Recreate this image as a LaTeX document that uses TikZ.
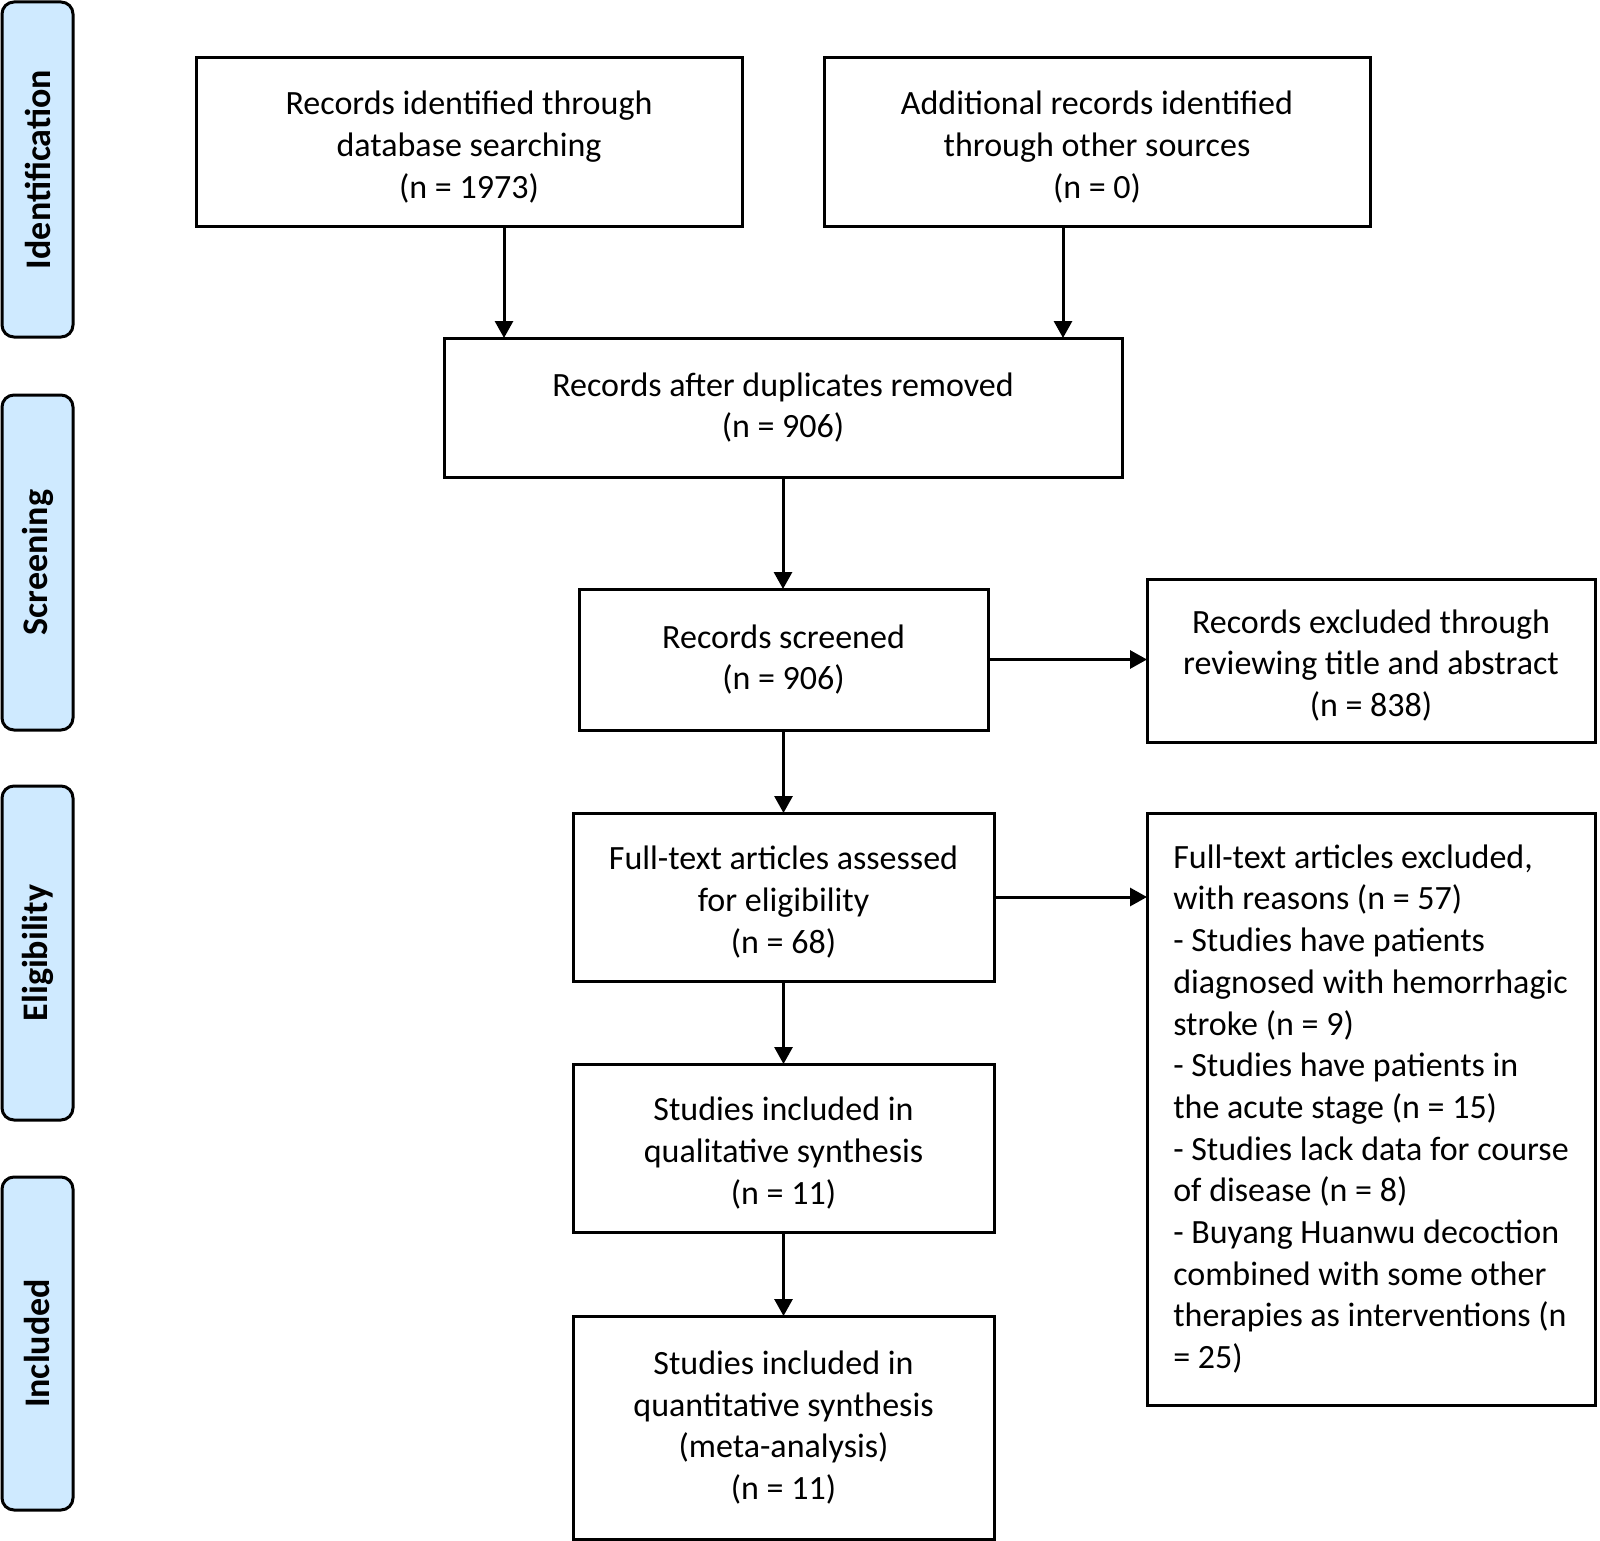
\documentclass[tikz,border=0pt]{standalone}
\usepackage{fontspec}
\setmainfont{Carlito}
\usetikzlibrary{arrows.meta,calc}
\definecolor{sidefill}{RGB}{207,234,255}
\newcommand\topgap{\rule{0pt}{16.8pt}}
\tikzset{
  box/.style={draw, line width=1.5pt, inner sep=0pt, outer sep=0pt, align=center,
    font=\fontsize{17}{20.85}\selectfont},
  side/.style={draw, line width=1.5pt, fill=sidefill, rounded corners=6pt, inner sep=0pt,
    outer sep=0pt, rotate=90, font=\fontsize{18}{22}\selectfont\bfseries},
  arr/.style={draw, line width=1.5pt, -{Triangle[length=8.5pt,width=9pt]}}
}
\begin{document}
\begin{tikzpicture}[x=0.5pt,y=-0.5pt]
\useasboundingbox (0,0) rectangle (1600,1541);
% side bars (rotated: minimum width -> vertical extent)
\node[side, minimum width=167.5pt, minimum height=35.5pt] (sid) at (37.5,169.5) {Identification};
\node[side, minimum width=167.5pt, minimum height=35.5pt] (ssc) at (37.5,562.5) {Screening};
\node[side, minimum width=167pt, minimum height=35.5pt] (sel) at (37.5,953) {Eligibility};
\node[side, minimum width=166.5pt, minimum height=35.5pt] (sin) at (37.5,1343.5) {Included};
% boxes
\node[box, minimum width=273pt, minimum height=84pt] (b1) at (469,142)
  {\topgap Records identified through\\database searching\\(n = 1973)};
\node[box, minimum width=273pt, minimum height=84pt] (b2) at (1097,142)
  {\topgap Additional records identified\\through other sources\\(n = 0)};
\node[box, minimum width=339pt, minimum height=69.5pt] (b3) at (783,407.5)
  {Records after duplicates removed\\(n = 906)};
\node[box, minimum width=204.5pt, minimum height=70.5pt] (b4) at (783.5,659.5)
  {Records screened\\(n = 906)};
\node[box, minimum width=224pt, minimum height=81.5pt] (b5) at (1371,660.5)
  {\topgap Records excluded through\\reviewing title and abstract\\(n = 838)};
\node[box, minimum width=210.5pt, minimum height=84pt] (b6) at (783.5,897)
  {\topgap Full-text articles assessed\\for eligibility\\(n = 68)};
\node[box, minimum width=224pt, minimum height=296pt, align=left] (b7) at (1371,1109)
  {Full-text articles excluded,\\with reasons (n = 57)\\- Studies have patients\\diagnosed with hemorrhagic\\stroke (n = 9)\\- Studies have patients in\\the acute stage (n = 15)\\- Studies lack data for course\\of disease (n = 8)\\- Buyang Huanwu decoction\\combined with some other\\therapies as interventions (n\\= 25)};
\node[box, minimum width=210.5pt, minimum height=84pt] (b8) at (783.5,1148)
  {\topgap Studies included in\\qualitative synthesis\\(n = 11)};
\node[box, minimum width=210.5pt, minimum height=111.5pt] (b9) at (783.5,1427.5)
  {Studies included in\\quantitative synthesis\\(meta-analysis)\\(n = 11)};
% connector start points
\coordinate (a1) at ($(b1.south)+(35,0)$);
\coordinate (a2) at ($(b2.south)+(-34,0)$);
% connectors
\draw[arr] (a1) -- (a1 |- b3.north);
\draw[arr] (a2) -- (a2 |- b3.north);
\draw[arr] (b3.south) -- (b3.south |- b4.north);
\draw[arr] (b4.east) -- (b4.east -| b5.west);
\draw[arr] (b4.south) -- (b4.south |- b6.north);
\draw[arr] (b6.east) -- (b6.east -| b7.west);
\draw[arr] (b6.south) -- (b6.south |- b8.north);
\draw[arr] (b8.south) -- (b8.south |- b9.north);
\end{tikzpicture}
\end{document}
